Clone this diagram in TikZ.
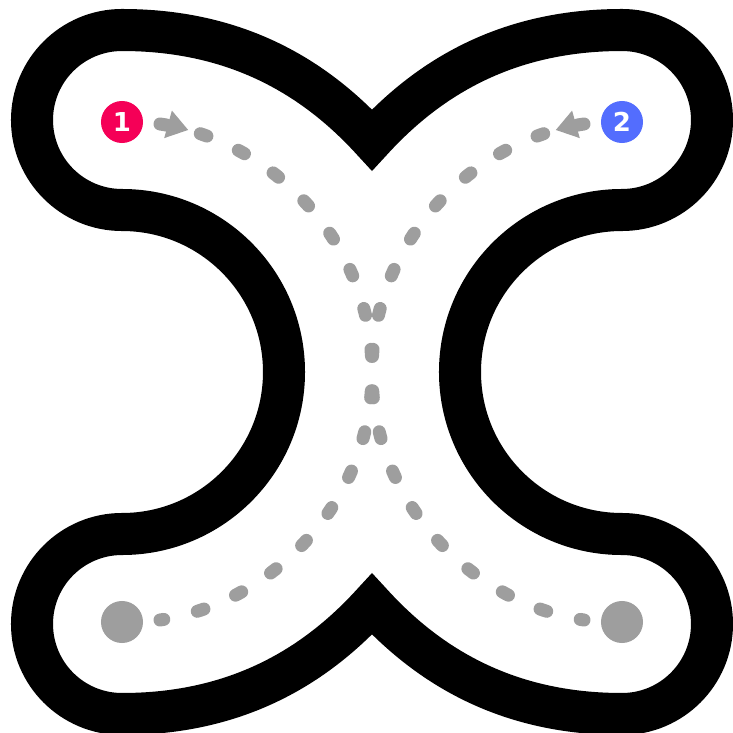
\documentclass[tikz,border=0pt]{standalone}
\usepackage{fontspec}
\setsansfont{DejaVu Sans}
\usepackage{tikz}
\usetikzlibrary{arrows.meta,decorations.markings}
\definecolor{cOne}{HTML}{F50057}
\definecolor{cTwo}{HTML}{536DFE}
\definecolor{cRoute}{HTML}{9E9E9E}

\begin{document}
\begin{tikzpicture}[
  x=0.01cm, y=0.01cm,
  outline/.style={draw=black, line width=0.42cm, miter limit=10},
  badge/.style={
    circle, minimum size=0.42cm, inner sep=0pt,
    text=white, font=\sffamily\bfseries\fontsize{7.4}{8}\selectfont
  },
  spot/.style={circle, fill=cRoute, minimum size=0.42cm, inner sep=0pt},
  route/.style={
    draw=cRoute, line width=0.13cm, line cap=round,
    dash pattern=on 0.07cm off 0.345cm,
    postaction={decorate},
    decoration={markings,
      mark=at position 0.29cm with {\arrow{Triangle[length=6pt,width=7.7pt]}}}
  },
]
\useasboundingbox (-372,-361) rectangle (360,372);
% track
\draw[outline] (-250,342) .. controls (-142,342) and (-62,300) .. (0,232)
  .. controls (62,300) and (142,342) .. (250,342)
  arc[start angle=90, end angle=-90, radius=90]
  arc[start angle=90, end angle=270, radius=162]
  arc[start angle=90, end angle=-90, radius=90]
  .. controls (142,-342) and (62,-300) .. (0,-232)
  .. controls (-62,-300) and (-142,-342) .. (-250,-342)
  arc[start angle=-90, end angle=-270, radius=90]
  arc[start angle=-90, end angle=90, radius=162]
  arc[start angle=-90, end angle=-270, radius=90]
  -- cycle;
% ends
\node[badge, fill=cOne] (one) at (-250,250) {1};
\node[badge, fill=cTwo] (two) at (250,250) {2};
\node[spot] (endA) at (-250,-250) {};
\node[spot] (endB) at (250,-250) {};
% routes
\draw[route] ([shift={(38,-2)}]one.center) .. controls (-102,232) and (0,132) .. (0,0)
  .. controls (0,-132) and (-102,-232) .. ([shift={(38,2)}]endA.center);
\draw[route] ([shift={(-38,-2)}]two.center) .. controls (102,232) and (0,132) .. (0,0)
  .. controls (0,-132) and (102,-232) .. ([shift={(-38,2)}]endB.center);
\end{tikzpicture}
\end{document}
